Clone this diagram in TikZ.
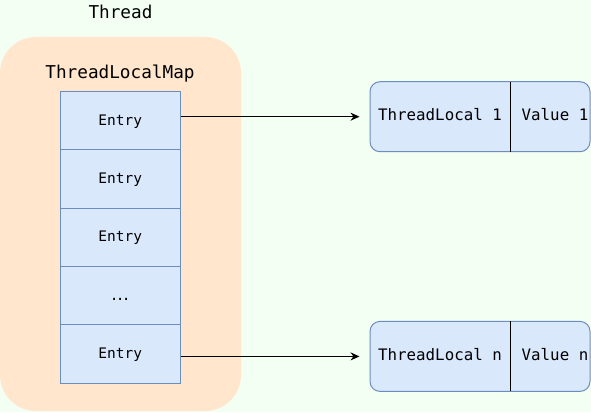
\documentclass[tikz,border=0pt]{standalone}
\usepackage{fontspec}
\setmonofont{DejaVu Sans Mono}
\usetikzlibrary{arrows.meta}
\definecolor{bgc}{HTML}{F4FFF4}
\definecolor{orangefill}{HTML}{FFE6CC}
\definecolor{bluefill}{HTML}{DAE8FC}
\definecolor{bluestroke}{HTML}{6C8EBF}
\begin{document}
\begin{tikzpicture}[x=1pt,y=-1pt,
  threadbox/.style={fill=orangefill, draw=none, rounded corners=36pt, minimum width=241pt, minimum height=374pt, inner sep=0pt},
  bigtext/.style={font=\fontsize{17.7}{20}\selectfont\ttfamily, inner sep=0pt, anchor=base},
  entrybox/.style={fill=bluefill, draw=bluestroke, line width=1pt, minimum width=120pt, minimum height=58.4pt, inner sep=0pt, text height=0.9em, text depth=0pt, font=\fontsize{14.5}{16}\selectfont\ttfamily},
  pairbox/.style={fill=bluefill, draw=bluestroke, line width=1pt, rounded corners=10pt, minimum width=220pt, minimum height=70pt, inner sep=0pt},
  pairtext/.style={inner sep=0pt, text height=0.8em, text depth=0pt, font=\fontsize{15.8}{18}\selectfont\ttfamily},
  divider/.style={draw=black, line width=1pt},
  arr/.style={draw=black, line width=1pt, -{Stealth[length=9pt,width=8pt]}}
]
\fill[bgc] (0,0) rectangle (591,412);
\useasboundingbox (0,0) rectangle (591,412);

\node[threadbox] (thread) at (120.5,224) {};
\node[bigtext] (threadlabel) at (120.5,18.3) {Thread};
\node[bigtext] (maplabel) at (120,78.3) {ThreadLocalMap};

\node[entrybox] (e1) at (120.2,120.5) {Entry};
\node[entrybox] (e2) at (120.2,178.9) {Entry};
\node[entrybox] (e3) at (120.2,237.3) {Entry};
\node[entrybox] (e4) at (120.2,295.7) {.\kern-2.7pt.\kern-2.7pt.};
\node[entrybox] (e5) at (120.2,354.1) {Entry};

\node[pairbox] (p1) at (480,116.7) {};
\coordinate (d1t) at (510.3,81.7);
\coordinate (d1b) at (510.3,151.7);
\draw[divider] (d1t) -- (d1b);
\node[pairtext] (k1) at (440,116.7) {ThreadLocal 1};
\node[pairtext] (v1) at (555,116.7) {Value 1};

\node[pairbox] (pn) at (480,356.4) {};
\coordinate (dnt) at (510.7,321.4);
\coordinate (dnb) at (510.7,391.4);
\draw[divider] (dnt) -- (dnb);
\node[pairtext] (kn) at (440,356.4) {ThreadLocal n};
\node[pairtext] (vn) at (555,356.4) {Value n};

\draw[arr] (e1.east |- p1.west) -- ([xshift=-10pt]p1.west);
\draw[arr] (e5.east |- pn.west) -- ([xshift=-10pt]pn.west);
\end{tikzpicture}
\end{document}
